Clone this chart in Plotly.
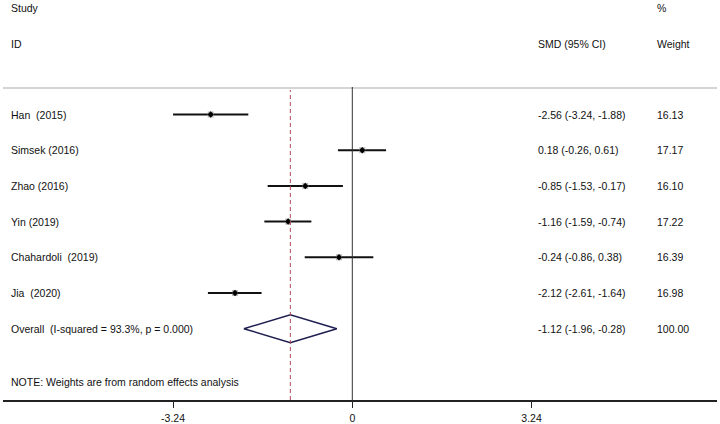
import plotly.graph_objects as go

# ---- data ----
studies = ["Han  (2015)", "Simsek (2016)", "Zhao (2016)", "Yin (2019)",
           "Chahardoli  (2019)", "Jia  (2020)"]
smd = [-2.56, 0.18, -0.85, -1.16, -0.24, -2.12]
ci_low = [-3.24, -0.26, -1.53, -1.59, -0.86, -2.61]
ci_high = [-1.88, 0.61, -0.17, -0.74, 0.38, -1.64]
weights = [16.13, 17.17, 16.10, 17.22, 16.39, 16.98]

overall_label = "Overall  (I-squared = 93.3%, p = 0.000)"
overall_smd = -1.12
overall_low = -1.96
overall_high = -0.28
overall_weight = 100.00

tick_vals = [-3.24, 0, 3.24]
tick_text = ["-3.24", "0", "3.24"]
note = "NOTE: Weights are from random effects analysis"

# ---- layout helpers (pixels) ----
W, H = 720, 424
ML, MR, MT, MB = 3, 3, 0, 24
PX0 = 352.3          # pixel of x=0
PXU = 55.32          # pixels per unit
ROW0 = 114.5         # pixel y of first row
ROWH = 35.7          # row spacing
PLOT_H = H - MT - MB

def xdata(px):
    return (px - PX0) / PXU

def ydata(py):
    return (py - ROW0) / ROWH

FONT = "Liberation Sans, Arial, sans-serif"
FS = 10.5
TXT = "#111111"

rows = list(range(len(studies)))
overall_row = len(studies)

fig = go.Figure()

fig.add_trace(go.Scatter(
    x=smd, y=rows, mode="markers",
    marker=dict(symbol="square", size=6, color="#b8b8b8"),
    error_x=dict(type="data", symmetric=False,
                 array=[h - m for h, m in zip(ci_high, smd)],
                 arrayminus=[m - l for m, l in zip(smd, ci_low)],
                 width=0, thickness=2, color="#111111"),
    hoverinfo="skip", showlegend=False))
fig.add_trace(go.Scatter(
    x=smd, y=rows, mode="markers",
    marker=dict(symbol="diamond", size=5, color="#000000"),
    hoverinfo="skip", showlegend=False))

hh = 0.39
fig.add_trace(go.Scatter(
    x=[overall_low, overall_smd, overall_high, overall_smd, overall_low],
    y=[overall_row, overall_row - hh, overall_row, overall_row + hh, overall_row],
    mode="lines", line=dict(color="#1e1e50", width=1.5),
    hoverinfo="skip", showlegend=False))

sep_y = ydata(88)
shapes = [
    dict(type="line", xref="paper", yref="y", x0=0, x1=1, y0=sep_y, y1=sep_y,
         line=dict(color="#d4d4d4", width=2)),
    dict(type="line", xref="x", yref="paper", x0=0, x1=0, y0=0,
         y1=1 - 87 / PLOT_H, line=dict(color="#333333", width=1)),
    dict(type="line", xref="x", yref="paper", x0=overall_smd, x1=overall_smd,
         y0=0, y1=1 - 90 / PLOT_H,
         line=dict(color="#b04a58", width=1, dash="4px,3px")),
]

annotations = []

def add_text(px, py, text):
    annotations.append(dict(
        x=(px - ML) / (W - ML - MR), y=ydata(py), xref="paper", yref="y",
        text=text, showarrow=False, xanchor="left", yanchor="middle",
        font=dict(family=FONT, size=FS, color=TXT)))

add_text(9, 7.5, "Study")
add_text(9, 44, "ID")
add_text(536, 44, "SMD (95% CI)")
add_text(655, 7.5, "%")
add_text(655, 44, "Weight")

for i, name in enumerate(studies):
    py = ROW0 + i * ROWH
    add_text(9, py, name)
    add_text(536, py, f"{smd[i]:.2f} ({ci_low[i]:.2f}, {ci_high[i]:.2f})")
    add_text(655, py, f"{weights[i]:.2f}")

py = ROW0 + overall_row * ROWH
add_text(9, py, overall_label)
add_text(536, py, f"{overall_smd:.2f} ({overall_low:.2f}, {overall_high:.2f})")
add_text(655, py, f"{overall_weight:.2f}")
add_text(9, 382, note)

fig.update_layout(
    width=W, height=H,
    margin=dict(l=ML, r=MR, t=MT, b=MB),
    paper_bgcolor="white", plot_bgcolor="white",
    shapes=shapes, annotations=annotations,
    xaxis=dict(range=[xdata(ML), xdata(W - MR)], showgrid=False, zeroline=False,
               showline=True, linecolor="#222222", linewidth=1.5,
               ticks="outside", ticklen=6, tickcolor="#222222", tickwidth=1,
               ticklabelstandoff=2,
               tickvals=tick_vals, ticktext=tick_text,
               tickfont=dict(family=FONT, size=FS, color=TXT), fixedrange=True),
    yaxis=dict(range=[ydata(MT + PLOT_H), ydata(MT)], showgrid=False,
               zeroline=False, showticklabels=False, showline=False,
               fixedrange=True),
    showlegend=False,
)

fig.write_html("out.html", config={"displayModeBar": False},
               post_script="document.body.style.margin='0';document.body.style.padding='0';")
